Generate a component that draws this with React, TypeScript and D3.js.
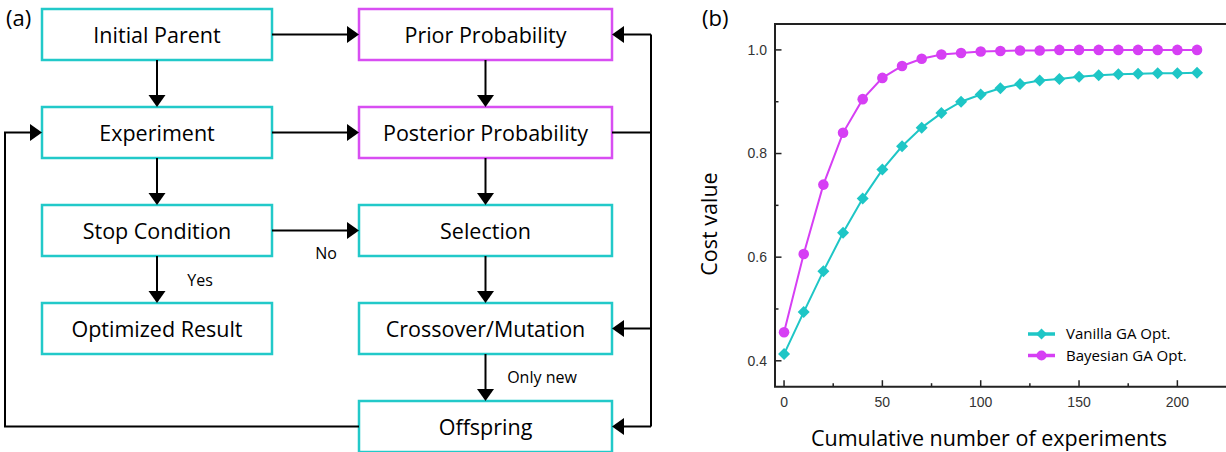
import React from "react";
import * as d3 from "d3";

// ---- flowchart content ----
const gaSteps = ["Initial Parent", "Experiment", "Stop Condition", "Optimized Result"];
const bayesSteps = [
  "Prior Probability",
  "Posterior Probability",
  "Selection",
  "Crossover/Mutation",
  "Offspring",
];
const bayesKinds = ["bayes", "bayes", "ga", "ga", "ga"];
const edgeLabels = { no: "No", yes: "Yes", onlyNew: "Only new" };

// ---- convergence curves ----
const experiments = [0, 10, 20, 30, 40, 50, 60, 70, 80, 90, 100, 110, 120, 130, 140, 150, 160, 170, 180, 190, 200, 210];
const vanillaGA = [0.413, 0.494, 0.573, 0.647, 0.713, 0.769, 0.814, 0.85, 0.878, 0.9, 0.914, 0.926, 0.934, 0.941, 0.944, 0.948, 0.951, 0.953, 0.954, 0.955, 0.955, 0.956];
const bayesianGA = [0.455, 0.606, 0.74, 0.84, 0.905, 0.946, 0.969, 0.983, 0.991, 0.994, 0.997, 0.998, 0.999, 0.999, 1.0, 1.0, 1.0, 1.0, 1.0, 1.0, 1.0, 1.0];
const seriesNames = ["Vanilla GA Opt.", "Bayesian GA Opt."];
const xTicks = [0, 50, 100, 150, 200];
const xMinorTicks = [25, 75, 125, 175];
const yTicks = [0.4, 0.6, 0.8, 1.0];
const yMinorTicks = [0.5, 0.7, 0.9];

const TEAL = "#1ec6c6";
const MAGENTA = "#d63ff4";
const BOX_TEAL = "#22c9c9";
const BOX_MAGENTA = "#d84ef2";
const UI_FONT = "'Open Sans', 'Noto Sans', sans-serif";
const TICK_FONT = "'Liberation Sans', Arial, sans-serif";

function Arrow({ points, head = true }: { points: [number, number][]; head?: boolean }) {
  const n = points.length;
  const [x1, y1] = points[n - 2];
  const [x2, y2] = points[n - 1];
  const ang = Math.atan2(y2 - y1, x2 - x1);
  const L = 12;
  const W = 8.5;
  const bx = x2 - L * Math.cos(ang);
  const by = y2 - L * Math.sin(ang);
  const px = -Math.sin(ang) * W;
  const py = Math.cos(ang) * W;
  const linePts = head ? [...points.slice(0, n - 1), [bx, by] as [number, number]] : points;
  return (
    <g>
      <path d={d3.line()(linePts) || ""} fill="none" stroke="#000" strokeWidth={2} />
      {head && (
        <polygon
          points={`${x2},${y2} ${bx + px},${by + py} ${bx - px},${by - py}`}
          fill="#000"
        />
      )}
    </g>
  );
}

function Flowchart() {
  const rowTop = d3.scaleLinear().domain([0, 4]).range([9, 401]);
  const boxH = 51;
  const left = { x0: 42, x1: 272 };
  const right = { x0: 359, x1: 612 };
  const cy = (i: number) => rowTop(i) + boxH / 2;
  const lcx = (left.x0 + left.x1) / 2;
  const rcx = (right.x0 + right.x1) / 2;
  const busX = 651;
  const loopX = 5;

  const label = (t: string, x: number, y: number) => (
    <text x={x} y={y} textAnchor="middle" dominantBaseline="central" fontFamily={UI_FONT} fontSize={21.5} fill="#000">
      {t}
    </text>
  );

  return (
    <g>
      <text x={6} y={26} fontFamily={UI_FONT} fontSize={22}>(a)</text>
      {gaSteps.map((s, i) => (
        <g key={s}>
          <rect x={left.x0} y={rowTop(i)} width={left.x1 - left.x0} height={boxH} fill="#fff" stroke={BOX_TEAL} strokeWidth={2.5} />
          {label(s, lcx, cy(i))}
        </g>
      ))}
      {bayesSteps.map((s, i) => (
        <g key={s}>
          <rect x={right.x0} y={rowTop(i)} width={right.x1 - right.x0} height={boxH} fill="#fff" stroke={bayesKinds[i] === "bayes" ? BOX_MAGENTA : BOX_TEAL} strokeWidth={2.5} />
          {label(s, rcx, cy(i))}
        </g>
      ))}

      {/* left column flow */}
      {[0, 1, 2].map((i) => (
        <Arrow key={"lv" + i} points={[[lcx, rowTop(i) + boxH], [lcx, rowTop(i + 1)]]} />
      ))}
      {/* right column flow */}
      {[0, 1, 2, 3].map((i) => (
        <Arrow key={"rv" + i} points={[[rcx, rowTop(i) + boxH], [rcx, rowTop(i + 1)]]} />
      ))}
      {/* cross links */}
      {[0, 1, 2].map((i) => (
        <Arrow key={"h" + i} points={[[left.x1, cy(i)], [right.x0, cy(i)]]} />
      ))}

      {/* posterior feeds back to prior, crossover and offspring */}
      <path d={`M${right.x1},${cy(1)}H${busX}M${busX},${cy(0)}V${cy(4)}`} fill="none" stroke="#000" strokeWidth={2} />
      {[0, 3, 4].map((i) => (
        <Arrow key={"b" + i} points={[[busX, cy(i)], [right.x1, cy(i)]]} />
      ))}

      {/* offspring loops back to experiment */}
      <Arrow points={[[right.x0, cy(4)], [loopX, cy(4)], [loopX, cy(1)], [left.x0, cy(1)]]} />

      <text x={326} y={259} textAnchor="middle" fontFamily={UI_FONT} fontSize={16}>{edgeLabels.no}</text>
      <text x={200} y={286} textAnchor="middle" fontFamily={UI_FONT} fontSize={16}>{edgeLabels.yes}</text>
      <text x={542} y={383} textAnchor="middle" fontFamily={UI_FONT} fontSize={16}>{edgeLabels.onlyNew}</text>
    </g>
  );
}

function Diamond({ x, y, r, fill }: { x: number; y: number; r: number; fill: string }) {
  return <polygon points={`${x},${y - r} ${x + r},${y} ${x},${y + r} ${x - r},${y}`} fill={fill} />;
}

function CostChart() {
  const x = d3.scaleLinear().domain([-4.6, 226]).range([775, 1228.5]);
  const y = d3.scaleLinear().domain([0.35, 1.05]).range([386.7, 24]);
  const [x0, x1] = x.range();
  const [yb, yt] = y.range();
  const line = d3
    .line<number>()
    .x((_, i) => x(experiments[i]))
    .y((d) => y(d));

  return (
    <g>
      <text x={702} y={26} fontFamily={UI_FONT} fontSize={22}>(b)</text>
      <path d={`M${x1},${yt}H${x0}V${yb}H${x1}`} fill="none" stroke="#222" strokeWidth={2} />

      {yTicks.map((t) => (
        <g key={"yt" + t}>
          <line x1={x0} x2={x0 + 6.5} y1={y(t)} y2={y(t)} stroke="#222" strokeWidth={1.5} />
          <text x={x0 - 8} y={y(t)} dy="0.35em" textAnchor="end" fontFamily={TICK_FONT} fontSize={14} fill="#333">
            {d3.format(".1f")(t)}
          </text>
        </g>
      ))}
      {yMinorTicks.map((t) => (
        <line key={"ym" + t} x1={x0} x2={x0 + 3.5} y1={y(t)} y2={y(t)} stroke="#222" strokeWidth={1.5} />
      ))}
      {xTicks.map((t) => (
        <g key={"xt" + t}>
          <line x1={x(t)} x2={x(t)} y1={yb} y2={yb - 6.5} stroke="#222" strokeWidth={1.5} />
          <text x={x(t)} y={yb + 20} textAnchor="middle" fontFamily={TICK_FONT} fontSize={14} fill="#333">
            {t}
          </text>
        </g>
      ))}
      {xMinorTicks.map((t) => (
        <line key={"xm" + t} x1={x(t)} x2={x(t)} y1={yb} y2={yb - 3.5} stroke="#222" strokeWidth={1.5} />
      ))}

      <text
        transform={`translate(717,224) rotate(-90)`}
        textAnchor="middle"
        fontFamily={UI_FONT}
        fontSize={21.5}
        fill="#000"
      >
        Cost value
      </text>
      <text x={989} y={446} textAnchor="middle" fontFamily={UI_FONT} fontSize={21.5} fill="#000">
        Cumulative number of experiments
      </text>

      <path d={line(vanillaGA) || ""} fill="none" stroke={TEAL} strokeWidth={2} />
      {vanillaGA.map((v, i) => (
        <Diamond key={"v" + i} x={x(experiments[i])} y={y(v)} r={6} fill={TEAL} />
      ))}
      <path d={line(bayesianGA) || ""} fill="none" stroke={MAGENTA} strokeWidth={2} />
      {bayesianGA.map((v, i) => (
        <circle key={"b" + i} cx={x(experiments[i])} cy={y(v)} r={5.3} fill={MAGENTA} />
      ))}

      {/* legend */}
      {[TEAL, MAGENTA].map((c, i) => {
        const ly = 334 + i * 21.5;
        return (
          <g key={"lg" + i}>
            <line x1={1028} x2={1055} y1={ly} y2={ly} stroke={c} strokeWidth={3.5} />
            {i === 0 ? <Diamond x={1041.5} y={ly} r={5.5} fill={c} /> : <circle cx={1041.5} cy={ly} r={5} fill={c} />}
            <text x={1066} y={ly} dy="0.35em" fontFamily={UI_FONT} fontSize={15} fill="#000">
              {seriesNames[i]}
            </text>
          </g>
        );
      })}
    </g>
  );
}

export default function App() {
  return (
    <svg
      width={1226}
      height={452}
      viewBox="0 0 1226 452"
      style={{ position: "absolute", left: 0, top: 0, background: "#fff" }}
    >
      <rect width={1226} height={452} fill="#fff" />
      <Flowchart />
      <CostChart />
    </svg>
  );
}
